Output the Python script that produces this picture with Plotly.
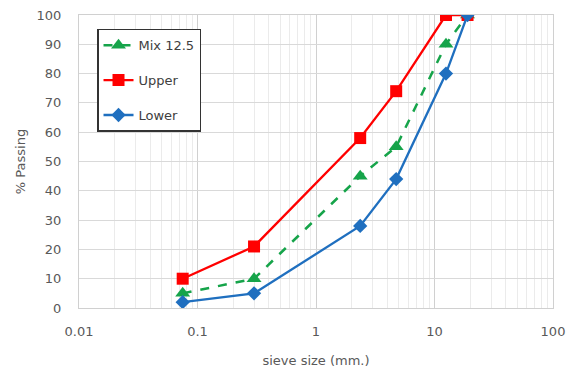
import plotly.graph_objects as go

sieve = [0.075, 0.3, 2.36, 4.75, 12.5, 19]
mix = [5, 10, 45, 55, 90, 100]
upper = [10, 21, 58, 74, 100, 100]
lower = [2, 5, 28, 44, 80, 100]

fig = go.Figure()
fig.add_trace(go.Scatter(x=sieve, y=mix, name="Mix 12.5", mode="lines+markers", legendgroup="a",
                         line=dict(color="#16A44A", width=2.5, dash="dash"),
                         marker=dict(symbol="triangle-up", size=13, color="#16A44A")))
fig.add_trace(go.Scatter(x=sieve, y=upper, name="Upper", mode="lines+markers", legendgroup="b",
                         line=dict(color="#FF0000", width=2.3),
                         marker=dict(symbol="square", size=12, color="#FF0000")))
fig.add_trace(go.Scatter(x=sieve, y=lower, name="Lower", mode="lines+markers", legendgroup="c",
                         line=dict(color="#1F6FBF", width=2.3),
                         marker=dict(symbol="diamond", size=11, color="#1F6FBF")))

tickfont = dict(family="DejaVu Sans", size=13, color="#595959")
fig.update_layout(
    width=568, height=368,
    margin=dict(l=79, r=15, t=15, b=60, autoexpand=False),
    paper_bgcolor="white", plot_bgcolor="white",
    showlegend=True,
    legend=dict(x=0.038, y=0.953, xanchor="left", yanchor="top",
                bordercolor="#333333", borderwidth=1.5, bgcolor="white",
                font=dict(family="DejaVu Sans", size=13, color="#404040"),
                tracegroupgap=15, traceorder="grouped"),
    xaxis=dict(type="log", range=[-2, 2], automargin=False,
               tickvals=[0.01, 0.1, 1, 10, 100], ticktext=["0.01", "0.1", "1", "10", "100"],
               showgrid=True, gridcolor="#D0D0D0", gridwidth=1,
               minor=dict(dtick="D1", showgrid=True, gridcolor="#EBEBEB", gridwidth=1),
               showline=True, linecolor="#D0D0D0", mirror=True,
               zeroline=False, tickfont=tickfont, ticks="outside", ticklen=11, tickcolor="rgba(0,0,0,0)",
               title=dict(text="sieve size (mm.)", font=tickfont, standoff=25)),
    yaxis=dict(range=[0, 100], dtick=10, showgrid=True, gridcolor="#D9D9D9", automargin=False,
               showline=True, linecolor="#D0D0D0", mirror=True, zeroline=False,
               tickfont=tickfont, ticks="outside", ticklen=14, tickcolor="rgba(0,0,0,0)",
               title=dict(text="% Passing", font=tickfont, standoff=8)),
)

fig.write_html("out.html", config={"displayModeBar": False},
               post_script="document.body.style.margin='0';")
